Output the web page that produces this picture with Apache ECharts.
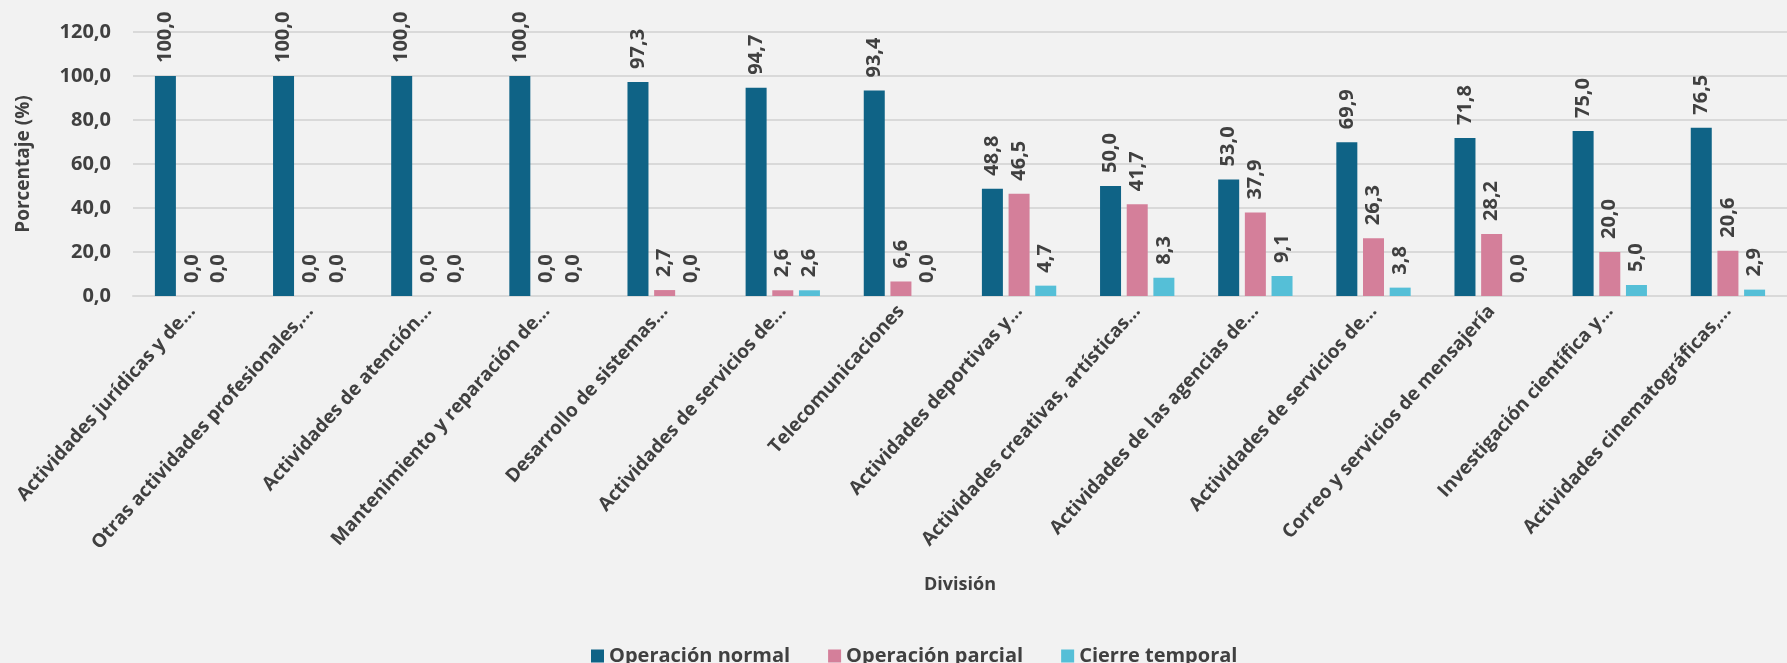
<!DOCTYPE html>
<html>
<head>
<meta charset="utf-8">
<script src="https://cdn.jsdelivr.net/npm/echarts@6/dist/echarts.min.js"></script>
<style>
html,body{margin:0;padding:0;background:#f2f2f2;}
#c{width:1787px;height:663px;}
</style>
</head>
<body>
<div id="c"></div>
<script>
const categories = [
  "Actividades jurídicas y de…",
  "Otras actividades profesionales,…",
  "Actividades de atención…",
  "Mantenimiento y reparación de…",
  "Desarrollo de sistemas…",
  "Actividades de servicios de…",
  "Telecomunicaciones",
  "Actividades deportivas y…",
  "Actividades creativas, artísticas…",
  "Actividades de las agencias de…",
  "Actividades de servicios de…",
  "Correo y servicios de mensajería",
  "Investigación científica y…",
  "Actividades cinematográficas,…"
];
const operacionNormal = [100.0, 100.0, 100.0, 100.0, 97.3, 94.7, 93.4, 48.8, 50.0, 53.0, 69.9, 71.8, 75.0, 76.5];
const operacionParcial = [0.0, 0.0, 0.0, 0.0, 2.7, 2.6, 6.6, 46.5, 41.7, 37.9, 26.3, 28.2, 20.0, 20.6];
const cierreTemporal = [0.0, 0.0, 0.0, 0.0, 0.0, 2.6, 0.0, 4.7, 8.3, 9.1, 3.8, 0.0, 5.0, 2.9];
const seriesNames = ["Operación normal", "Operación parcial", "Cierre temporal"];
const colors = ["#0f6386", "#d47f9a", "#55bfd7"];

const FONT = "Open Sans";
const TXT = "#404040";
const fmt = v => Number(v).toFixed(1).replace('.', ',');

const chart = echarts.init(document.getElementById('c'), null, {renderer: 'canvas'});
const mk = (name, data, color) => ({
  name: name,
  type: 'bar',
  data: data,
  barWidth: 21,
  barGap: '27%',
  itemStyle: {color: color},
  label: {
    show: true,
    position: 'top',
    rotate: 90,
    align: 'left',
    verticalAlign: 'middle',
    distance: 13,
    formatter: p => fmt(p.value),
    fontFamily: FONT,
    fontWeight: 'bold',
    fontSize: 20,
    color: TXT
  }
});

chart.setOption({
  backgroundColor: '#f2f2f2',
  animation: false,
  color: colors,
  grid: {left: 133, right: -8, top: 32, bottom: 367, containLabel: false},
  legend: {
    left: 586,
    top: 641,
    itemWidth: 13,
    itemHeight: 13,
    itemGap: 38,
    icon: 'rect',
    textStyle: {fontFamily: FONT, fontWeight: 'bold', fontSize: 20, color: TXT, padding: [0,0,0,0]},
    data: seriesNames
  },
  xAxis: {
    type: 'category',
    data: categories,
    name: 'División',
    nameLocation: 'middle',
    nameGap: 280,
    nameTextStyle: {fontFamily: FONT, fontWeight: 'bold', fontSize: 18, color: TXT},
    axisLine: {show: true, lineStyle: {color: '#d9d9d9', width: 2}},
    axisTick: {show: false},
    axisLabel: {
      interval: 0,
      rotate: 48,
      margin: 12,
      fontFamily: FONT,
      fontWeight: 'bold',
      fontSize: 19,
      color: TXT
    }
  },
  yAxis: {
    type: 'value',
    min: 0,
    max: 120,
    interval: 20,
    name: 'Porcentaje (%)',
    nameLocation: 'middle',
    nameGap: 100,
    nameTextStyle: {fontFamily: FONT, fontWeight: 'bold', fontSize: 19, color: TXT},
    axisLine: {show: false},
    axisTick: {show: false},
    axisLabel: {
      margin: 22,
      formatter: v => fmt(v),
      fontFamily: FONT,
      fontWeight: 'bold',
      fontSize: 20,
      color: TXT
    },
    splitLine: {lineStyle: {color: '#d9d9d9', width: 2}}
  },
  series: [
    mk(seriesNames[0], operacionNormal, colors[0]),
    mk(seriesNames[1], operacionParcial, colors[1]),
    mk(seriesNames[2], cierreTemporal, colors[2])
  ]
});
</script>
</body>
</html>
